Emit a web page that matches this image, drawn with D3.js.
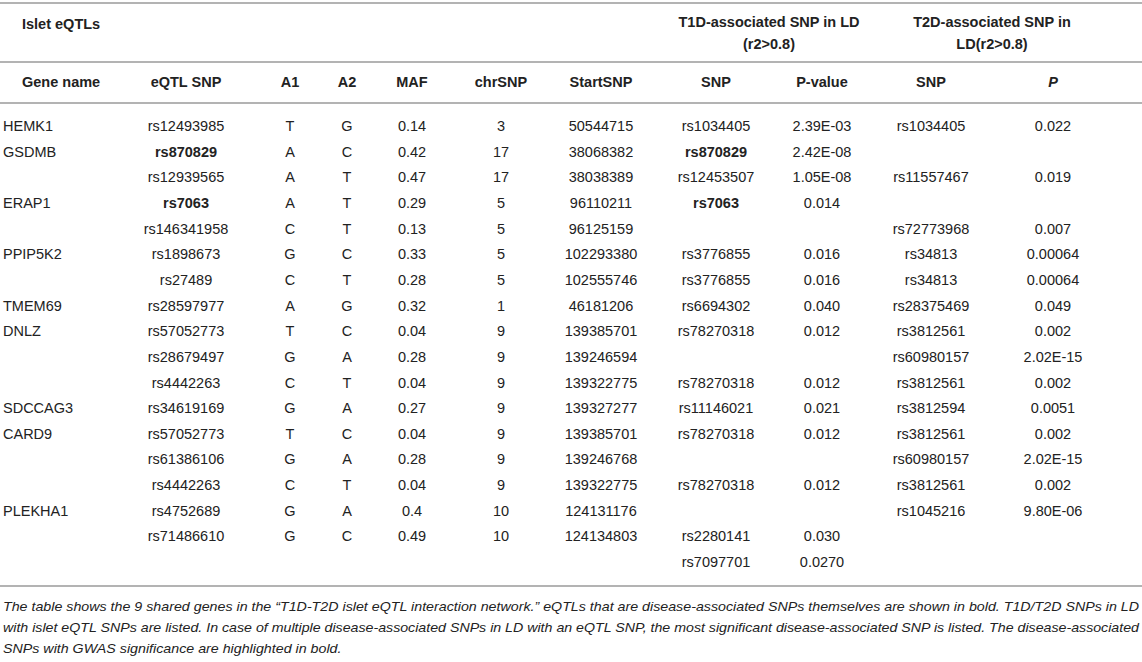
<!DOCTYPE html>
<html>
<head>
<meta charset="utf-8">
<script src="https://cdn.jsdelivr.net/npm/d3@7"></script>
<style>
  body { margin: 0; background: #fff; }
  svg { display: block; font-family: "Liberation Sans", Arial, Helvetica, sans-serif; }
</style>
</head>
<body>
<svg id="table" width="1142" height="662"></svg>
<script>
// column data, one array per column
const geneName = ["HEMK1","GSDMB","","ERAP1","","PPIP5K2","","TMEM69","DNLZ","","","SDCCAG3","CARD9","","","PLEKHA1","",""];
const eqtlSnp  = ["rs12493985","rs870829","rs12939565","rs7063","rs146341958","rs1898673","rs27489","rs28597977","rs57052773","rs28679497","rs4442263","rs34619169","rs57052773","rs61386106","rs4442263","rs4752689","rs71486610",""];
const a1       = ["T","A","A","A","C","G","C","A","T","G","C","G","T","G","C","G","G",""];
const a2       = ["G","C","T","T","T","C","T","G","C","A","T","A","C","A","T","A","C",""];
const maf      = ["0.14","0.42","0.47","0.29","0.13","0.33","0.28","0.32","0.04","0.28","0.04","0.27","0.04","0.28","0.04","0.4","0.49",""];
const chrSnp   = ["3","17","17","5","5","5","5","1","9","9","9","9","9","9","9","10","10",""];
const startSnp = ["50544715","38068382","38038389","96110211","96125159","102293380","102555746","46181206","139385701","139246594","139322775","139327277","139385701","139246768","139322775","124131176","124134803",""];
const t1dSnp   = ["rs1034405","rs870829","rs12453507","rs7063","","rs3776855","rs3776855","rs6694302","rs78270318","","rs78270318","rs11146021","rs78270318","","rs78270318","","rs2280141","rs7097701"];
const t1dP     = ["2.39E-03","2.42E-08","1.05E-08","0.014","","0.016","0.016","0.040","0.012","","0.012","0.021","0.012","","0.012","","0.030","0.0270"];
const t2dSnp   = ["rs1034405","","rs11557467","","rs72773968","rs34813","rs34813","rs28375469","rs3812561","rs60980157","rs3812561","rs3812594","rs3812561","rs60980157","rs3812561","rs1045216","",""];
const t2dP     = ["0.022","","0.019","","0.007","0.00064","0.00064","0.049","0.002","2.02E-15","0.002","0.0051","0.002","2.02E-15","0.002","9.80E-06","",""];

// header labels
const colKeys   = ["gene","eqtl","a1","a2","maf","chr","start","t1dSnp","t1dP","t2dSnp","t2dP"];
const colLabels = ["Gene name","eQTL SNP","A1","A2","MAF","chrSNP","StartSNP","SNP","P-value","SNP","P"];
const boldSnps  = ["rs870829","rs7063"];

const captionLines = [
  "The table shows the 9 shared genes in the \u201cT1D-T2D islet eQTL interaction network.\u201d eQTLs that are disease-associated SNPs themselves are shown in bold. T1D/T2D SNPs in LD",
  "with islet eQTL SNPs are listed. In case of multiple disease-associated SNPs in LD with an eQTL SNP, the most significant disease-associated SNP is listed. The disease-associated",
  "SNPs with GWAS significance are highlighted in bold."
];

const columns = [geneName, eqtlSnp, a1, a2, maf, chrSnp, startSnp, t1dSnp, t1dP, t2dSnp, t2dP];

const svg = d3.select("#table");
const W = +svg.attr("width");
const textColor = "#222";
const ruleColor = "#b3b3b3";

// column centres (gene column is left aligned)
const x = d3.scaleOrdinal()
  .domain(colKeys)
  .range([3, 186, 290, 347, 412, 501, 601, 716, 822, 931, 1053]);

// rows
const nRows = eqtlSnp.length;
const y = d3.scalePoint()
  .domain(d3.range(nRows))
  .range([126, 562]);

// rules
const rules = [3, 62, 103, 586];
svg.selectAll("line.rule")
  .data(rules)
  .join("line")
    .attr("class", "rule")
    .attr("x1", 0).attr("x2", W)
    .attr("y1", d => d).attr("y2", d => d)
    .attr("stroke", ruleColor)
    .attr("stroke-width", 2);

// group headers
const g = svg.append("g").attr("fill", textColor).style("font-size", "14.5px").style("font-weight", "bold");
g.append("text").attr("x", 22).attr("y", 24).attr("dy", "0.35em").text("Islet eQTLs");

const t1dMid = (x("t1dSnp") + x("t1dP")) / 2;
const t2dMid = (x("t2dSnp") + x("t2dP")) / 2;
[["T1D-associated SNP in LD", t1dMid, 22], ["(r2>0.8)", t1dMid, 44],
 ["T2D-associated SNP in", t2dMid, 22], ["LD(r2>0.8)", t2dMid, 44]]
  .forEach(([t, cx, cy]) => {
    g.append("text").attr("x", cx).attr("y", cy).attr("dy", "0.35em")
      .attr("text-anchor", "middle").text(t);
  });

// column headers
g.selectAll("text.colhead")
  .data(colKeys)
  .join("text")
    .attr("class", "colhead")
    .attr("x", (d, i) => i === 0 ? 22 : x(d))
    .attr("y", 82)
    .attr("dy", "0.35em")
    .attr("text-anchor", (d, i) => i === 0 ? "start" : "middle")
    .style("font-style", d => d === "t2dP" ? "italic" : null)
    .text((d, i) => colLabels[i]);

// body cells
const cells = [];
columns.forEach((col, ci) => {
  col.forEach((v, ri) => {
    if (v !== "") cells.push({ key: colKeys[ci], row: ri, value: v });
  });
});

svg.append("g")
  .attr("fill", textColor)
  .style("font-size", "14.5px")
  .selectAll("text")
  .data(cells)
  .join("text")
    .attr("x", d => x(d.key))
    .attr("y", d => y(d.row))
    .attr("dy", "0.35em")
    .attr("text-anchor", d => d.key === "gene" ? "start" : "middle")
    .style("font-weight", d => (d.key === "eqtl" || d.key === "t1dSnp") && boldSnps.includes(d.value) ? "bold" : null)
    .text(d => d.value);

// caption, justified to the full width like the source
const cap = svg.append("g")
  .attr("fill", textColor)
  .style("font-size", "13px")
  .style("font-style", "italic");

const capText = cap.selectAll("text")
  .data(captionLines)
  .join("text")
    .attr("x", 3)
    .attr("y", (d, i) => 606 + i * 21)
    .attr("dy", "0.35em")
    .text(d => d);

const natural = capText.nodes()[0].getComputedTextLength();
const ratio = (W - 6) / natural;
capText.each(function (d, i) {
  const len = i < 2 ? W - 6 : this.getComputedTextLength() * ratio;
  d3.select(this).attr("textLength", len).attr("lengthAdjust", "spacingAndGlyphs");
});
</script>
</body>
</html>
